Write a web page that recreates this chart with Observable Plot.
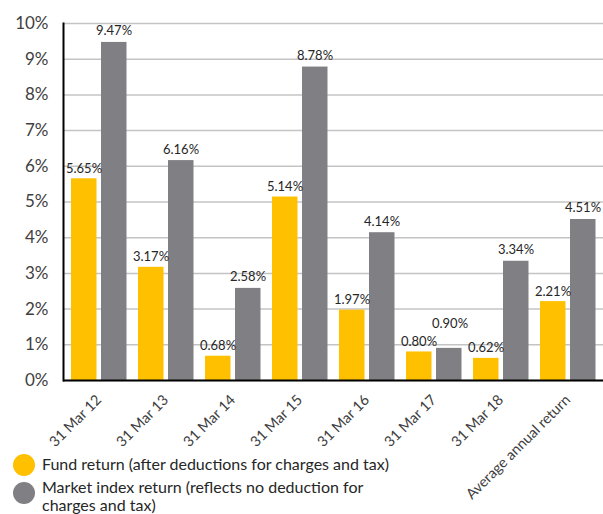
<!DOCTYPE html>
<html>
<head>
<meta charset="utf-8">
<script src="https://cdn.jsdelivr.net/npm/d3@7"></script>
<script src="https://cdn.jsdelivr.net/npm/@observablehq/plot@0.6"></script>
<style>
  html, body { margin: 0; padding: 0; background: #fff; }
  body { width: 603px; height: 514px; overflow: hidden; font-family: Lato, "Liberation Sans", sans-serif; }
  #chart svg { overflow: visible; }
  #chart [aria-label^="y-axis"] text { font-size: 17px; fill: #404040; }
  #chart [aria-label^="x-axis"] text { font-size: 14.5px; fill: #404040; }
  #legend { position: relative; height: 66px; font-size: 16px; color: #262626; line-height: 18px; }
  #legend .dot { position: absolute; width: 22px; height: 22px; border-radius: 50%; left: 13px; }
  #legend .txt { position: absolute; left: 42px; white-space: nowrap; }
</style>
</head>
<body>
<div id="chart"></div>
<div id="legend"></div>
<script>
const categories = ["31 Mar 12", "31 Mar 13", "31 Mar 14", "31 Mar 15", "31 Mar 16", "31 Mar 17", "31 Mar 18", "Average annual return"];
const fundReturn = [5.65, 3.17, 0.68, 5.14, 1.97, 0.80, 0.62, 2.21];
const marketReturn = [9.47, 6.16, 2.58, 8.78, 4.14, 0.90, 3.34, 4.51];
const yTicks = [0, 1, 2, 3, 4, 5, 6, 7, 8, 9, 10];
const seriesNames = ["Fund return (after deductions for charges and tax)", "Market index return (reflects no deduction for charges and tax)"];
const seriesColors = ["#FFC000", "#807F83"];

const fundData = categories.map((c, i) => ({cat: c, value: fundReturn[i]}));
const marketData = categories.map((c, i) => ({cat: c, value: marketReturn[i], crowded: Math.abs(marketReturn[i] - fundReturn[i]) < 0.5}));
const fmt = d => d.value.toFixed(2) + "%";
const labelStyle = {x: "cat", y: "value", text: fmt, lineAnchor: "bottom", fontSize: 13, fill: "#262626"};

const chart = Plot.plot({
  width: 603,
  height: 448,
  marginTop: 23,
  marginBottom: 68,
  marginLeft: 63,
  marginRight: 0,
  style: {fontFamily: "Lato, 'Liberation Sans', sans-serif", background: "white", overflow: "visible"},
  x: {domain: categories, padding: 0, label: null, tickRotate: -45, tickSize: 0, tickPadding: 17},
  y: {domain: [0, 10], ticks: yTicks, tickFormat: d => d + "%", label: null, tickSize: 0, tickPadding: 15},
  marks: [
    Plot.ruleY(yTicks, {stroke: "#c4c4c4", strokeWidth: 1.5}),
    Plot.barY(fundData, {x: "cat", y: "value", fill: seriesColors[0], insetLeft: 6, insetRight: 35.5}),
    Plot.barY(marketData, {x: "cat", y: "value", fill: seriesColors[1], insetLeft: 36, insetRight: 5.5}),
    Plot.text(fundData, {...labelStyle, dx: -15, dy: -6}),
    Plot.text(marketData.filter(d => !d.crowded), {...labelStyle, dx: 15, dy: -7}),
    Plot.text(marketData.filter(d => d.crowded), {...labelStyle, dx: 16, dy: -20}),
    Plot.ruleY([0], {stroke: "#000", strokeWidth: 2}),
    Plot.frame({anchor: "left", stroke: "#000", strokeWidth: 2})
  ]
});
document.getElementById("chart").appendChild(chart);

const legend = document.getElementById("legend");
legend.innerHTML =
  `<div class="dot" style="top:6px;background:${seriesColors[0]}"></div>` +
  `<div class="txt" style="top:7px">${seriesNames[0]}</div>` +
  `<div class="dot" style="top:34px;background:${seriesColors[1]}"></div>` +
  `<div class="txt" style="top:30px">Market index return (reflects no deduction for<br>charges and tax)</div>`;
</script>
</body>
</html>
